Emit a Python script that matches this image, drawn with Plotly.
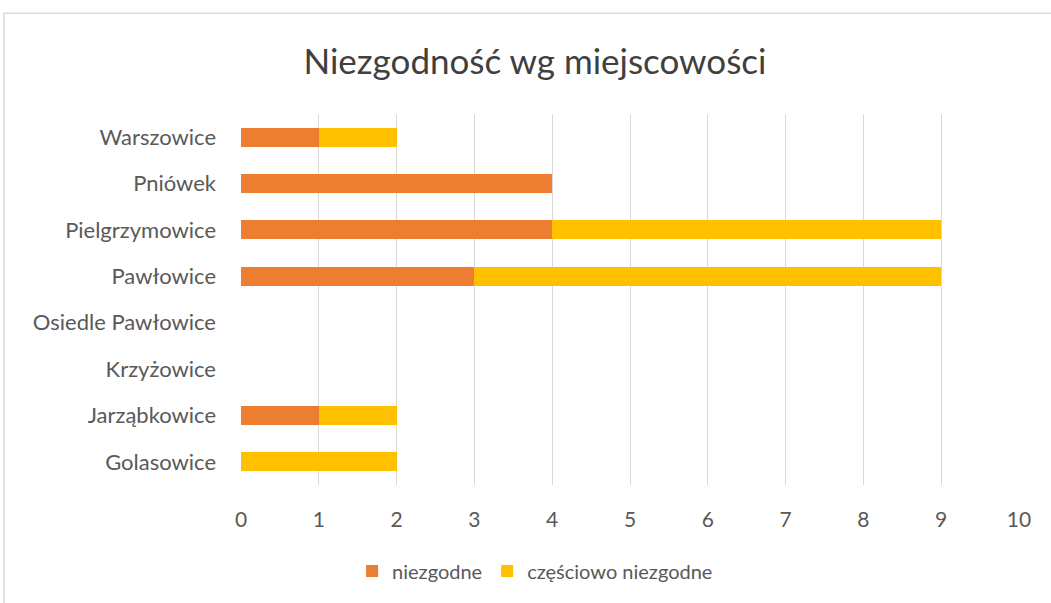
import plotly.graph_objects as go

categories = ["Golasowice", "Jarząbkowice", "Krzyżowice", "Osiedle Pawłowice",
              "Pawłowice", "Pielgrzymowice", "Pniówek", "Warszowice"]
niezgodne = [0, 1, 0, 0, 3, 4, 4, 1]
czesciowo = [2, 1, 0, 0, 6, 5, 0, 1]
x_ticks = list(range(0, 11))

FONT = "Lato, 'Open Sans', sans-serif"
TXT = "#595959"

fig = go.Figure()
fig.add_trace(go.Bar(y=categories, x=niezgodne, orientation="h", name="niezgodne",
                     marker=dict(color="#ED7D31", line=dict(width=0))))
fig.add_trace(go.Bar(y=categories, x=czesciowo, orientation="h", name="częściowo niezgodne",
                     marker=dict(color="#FFC000", line=dict(width=0))))

fig.update_layout(
    barmode="stack",
    bargap=0.59,
    width=1051, height=603,
    margin=dict(l=241, r=32, t=114, b=116),
    paper_bgcolor="white", plot_bgcolor="white",
    font=dict(family=FONT, color=TXT, size=22),
    title=dict(text="Niezgodność wg miejscowości", x=0.509, xanchor="center",
               y=1 - 62/603, yanchor="middle",
               font=dict(size=35, color="#404040", family=FONT)),
    xaxis=dict(range=[0, 10], tickvals=x_ticks, showgrid=True, gridcolor="#D9D9D9",
               gridwidth=1, zeroline=False, showline=False, ticks="",
               tickfont=dict(size=21, color=TXT), ticklabelstandoff=20, fixedrange=True),
    yaxis=dict(showgrid=False, zeroline=False, showline=False, ticks="",
               tickfont=dict(size=22, color=TXT), ticklabelstandoff=24),
    legend=dict(orientation="h", x=0.378, xanchor="center", y=-0.232, yanchor="middle",
                font=dict(size=20, color=TXT), traceorder="normal", itemwidth=30),
    showlegend=True,
    shapes=[dict(type="rect", xref="paper", yref="paper", x0=-0.3046, x1=1.2,
                 y0=-0.6, y1=1.2718, line=dict(color="#D9D9D9", width=1.5),
                 fillcolor="rgba(0,0,0,0)", layer="below")],
)

fig.write_html("out.html", config={"displayModeBar": False},
               post_script="document.body.style.margin='0';")
